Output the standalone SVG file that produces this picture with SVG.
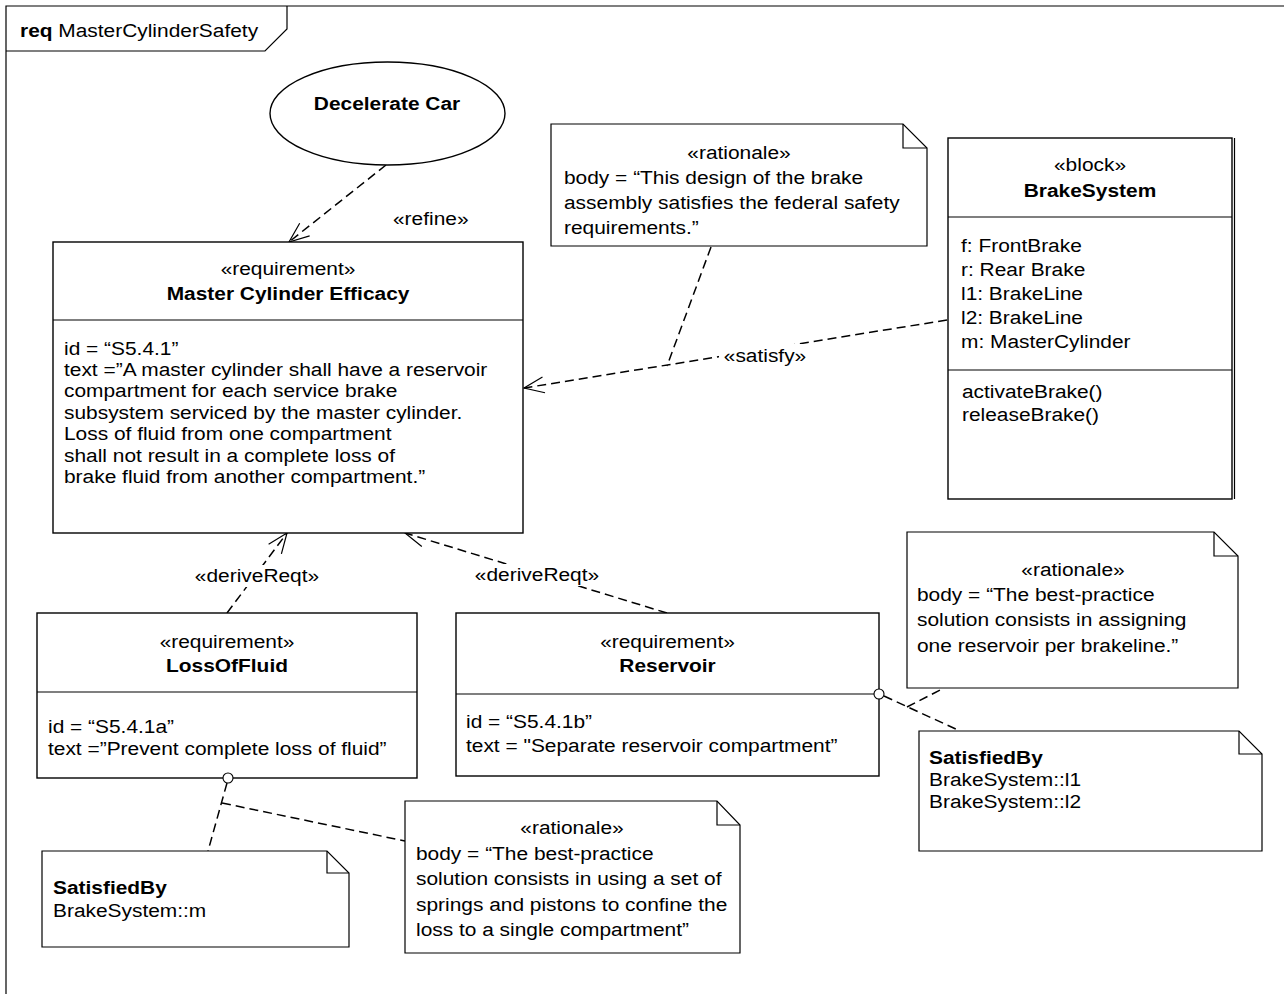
<svg xmlns="http://www.w3.org/2000/svg" width="1284" height="994" viewBox="0 0 1284 994">
<defs>
<style>
.t{font-family:"Liberation Sans",Arial,Helvetica,sans-serif;font-size:19px;fill:#000}
.b{font-weight:bold}
.box{fill:#fff;stroke:#000;stroke-width:1.4}
.note{fill:#fff;stroke:#000;stroke-width:1.2}
.ln{fill:none;stroke:#000;stroke-width:1.2}
.dash{fill:none;stroke:#000;stroke-width:1.5;stroke-dasharray:9 5}
.lbg{fill:#fff;stroke:none}
</style>
<marker id="open" markerUnits="userSpaceOnUse" markerWidth="26" markerHeight="26" viewBox="-22 -13 26 26" refX="0" refY="0" orient="auto">
<path d="M-20,-8 L0,0 L-20,8" fill="none" stroke="#000" stroke-width="1.2" stroke-dasharray="none"/>
</marker>
</defs>
<rect width="1284" height="994" fill="#fff"/>

<g id="frame">
<path class="ln" d="M6,994 L6,6 L1284,6"/>
<path class="ln" d="M6,51 L265,51 L287,29 L287,6"/>
<text class="t" transform="translate(20,37) scale(1.1,1)"><tspan class="b">req</tspan> MasterCylinderSafety</text>
</g>

<g id="connectors">
<path class="dash" d="M386,165 L289,242" marker-end="url(#open)"/>
<text class="t" transform="translate(393,225) scale(1.1,1)">«refine»</text>

<path class="dash" d="M947,320 L524,388" marker-end="url(#open)"/>
<path class="dash" d="M711,247 L667,366"/>
<rect class="lbg" x="719" y="344" width="90" height="22"/>
<text class="t" transform="translate(765,362) scale(1.1,1)" text-anchor="middle">«satisfy»</text>

<path class="dash" d="M227,613 L287,533" marker-end="url(#open)"/>
<rect class="lbg" x="192" y="565" width="130" height="22"/>
<text class="t" transform="translate(257,582) scale(1.1,1)" text-anchor="middle">«deriveReqt»</text>

<path class="dash" d="M667,613 L405,533" marker-end="url(#open)"/>
<rect class="lbg" x="472" y="564" width="130" height="22"/>
<text class="t" transform="translate(537,581) scale(1.1,1)" text-anchor="middle">«deriveReqt»</text>

<path class="dash" d="M227,783 L208,851"/>
<path class="dash" d="M222,803 L405,841"/>
<path class="dash" d="M884,696 L960,731"/>
<path class="dash" d="M907,707 L944,688"/>
</g>

<g id="decelerate-car">
<ellipse class="box" cx="387.5" cy="113.5" rx="117.5" ry="51.5" stroke-width="1.1"/>
<text class="t b" transform="translate(387,110) scale(1.1,1)" text-anchor="middle">Decelerate Car</text>
</g>

<g id="master-cylinder-efficacy">
<rect class="box" x="53" y="242" width="470" height="291"/>
<line class="ln" x1="53" y1="320" x2="523" y2="320"/>
<text class="t" transform="translate(288,274.5) scale(1.1,1)" text-anchor="middle">«requirement»</text>
<text class="t b" transform="translate(288,300) scale(1.1,1)" text-anchor="middle">Master Cylinder Efficacy</text>
<text class="t" transform="translate(64,354.5) scale(1.1,1)">
<tspan x="0" y="0">id = “S5.4.1”</tspan>
<tspan x="0" y="21.5">text =”A master cylinder shall have a reservoir</tspan>
<tspan x="0" y="43">compartment for each service brake</tspan>
<tspan x="0" y="64.5">subsystem serviced by the master cylinder.</tspan>
<tspan x="0" y="86">Loss of fluid from one compartment</tspan>
<tspan x="0" y="107.5">shall not result in a complete loss of</tspan>
<tspan x="0" y="129">brake fluid from another compartment.”</tspan>
</text>
</g>

<g id="rationale-satisfy">
<path class="note" d="M551,124 L903,124 L927,148 L927,246 L551,246 Z"/>
<path class="ln" d="M903,124 L903,148 L927,148"/>
<text class="t" transform="translate(739,158.5) scale(1.1,1)" text-anchor="middle">«rationale»</text>
<text class="t" transform="translate(564,183.5) scale(1.1,1)">
<tspan x="0" y="0">body = “This design of the brake</tspan>
<tspan x="0" y="25.5">assembly satisfies the federal safety</tspan>
<tspan x="0" y="51">requirements.”</tspan>
</text>
</g>

<g id="brake-system">
<rect class="box" x="948" y="138" width="284" height="361"/>
<line class="ln" x1="1234.5" y1="138" x2="1234.5" y2="499"/>
<line class="ln" x1="948" y1="217" x2="1232" y2="217"/>
<line class="ln" x1="948" y1="370" x2="1232" y2="370"/>
<text class="t" transform="translate(1090,171) scale(1.1,1)" text-anchor="middle">«block»</text>
<text class="t b" transform="translate(1090,197) scale(1.1,1)" text-anchor="middle">BrakeSystem</text>
<text class="t" transform="translate(961,252) scale(1.1,1)">
<tspan x="0" y="0">f: FrontBrake</tspan>
<tspan x="0" y="24">r: Rear Brake</tspan>
<tspan x="0" y="48">l1: BrakeLine</tspan>
<tspan x="0" y="72">l2: BrakeLine</tspan>
<tspan x="0" y="96">m: MasterCylinder</tspan>
</text>
<text class="t" transform="translate(962,398) scale(1.1,1)">
<tspan x="0" y="0">activateBrake()</tspan>
<tspan x="0" y="23">releaseBrake()</tspan>
</text>
</g>

<g id="loss-of-fluid">
<rect class="box" x="37" y="613" width="380" height="165"/>
<line class="ln" x1="37" y1="692" x2="417" y2="692"/>
<text class="t" transform="translate(227,648) scale(1.1,1)" text-anchor="middle">«requirement»</text>
<text class="t b" transform="translate(227,672) scale(1.1,1)" text-anchor="middle">LossOfFluid</text>
<text class="t" transform="translate(48,733) scale(1.1,1)">
<tspan x="0" y="0">id = “S5.4.1a”</tspan>
<tspan x="0" y="22">text =”Prevent complete loss of fluid”</tspan>
</text>
<circle cx="228" cy="778" r="5" fill="#fff" stroke="#000" stroke-width="1.1"/>
</g>

<g id="reservoir">
<rect class="box" x="456" y="613" width="423" height="163"/>
<line class="ln" x1="456" y1="694" x2="879" y2="694"/>
<text class="t" transform="translate(667.5,648) scale(1.1,1)" text-anchor="middle">«requirement»</text>
<text class="t b" transform="translate(667.5,672) scale(1.1,1)" text-anchor="middle">Reservoir</text>
<text class="t" transform="translate(466,728) scale(1.1,1)">
<tspan x="0" y="0">id = “S5.4.1b”</tspan>
<tspan x="0" y="24">text = "Separate reservoir compartment”</tspan>
</text>
<circle cx="879" cy="694" r="5" fill="#fff" stroke="#000" stroke-width="1.1"/>
</g>

<g id="rationale-reservoir">
<path class="note" d="M907,532 L1214,532 L1238,556 L1238,688 L907,688 Z"/>
<path class="ln" d="M1214,532 L1214,556 L1238,556"/>
<text class="t" transform="translate(1073,575.5) scale(1.1,1)" text-anchor="middle">«rationale»</text>
<text class="t" transform="translate(917,601) scale(1.1,1)">
<tspan x="0" y="0">body = “The best-practice</tspan>
<tspan x="0" y="25.5">solution consists in assigning</tspan>
<tspan x="0" y="51">one reservoir per brakeline.”</tspan>
</text>
</g>

<g id="satisfiedby-reservoir">
<path class="note" d="M919,731 L1239,731 L1262,754 L1262,851 L919,851 Z"/>
<path class="ln" d="M1239,731 L1239,754 L1262,754"/>
<text class="t b" transform="translate(929,764) scale(1.1,1)">SatisfiedBy</text>
<text class="t" transform="translate(929,786) scale(1.1,1)">
<tspan x="0" y="0">BrakeSystem::l1</tspan>
<tspan x="0" y="22">BrakeSystem::l2</tspan>
</text>
</g>

<g id="rationale-lossoffluid">
<path class="note" d="M405,801 L717,801 L740,825 L740,953 L405,953 Z"/>
<path class="ln" d="M717,801 L717,825 L740,825"/>
<text class="t" transform="translate(572,834) scale(1.1,1)" text-anchor="middle">«rationale»</text>
<text class="t" transform="translate(416,860) scale(1.1,1)">
<tspan x="0" y="0">body = “The best-practice</tspan>
<tspan x="0" y="25.5">solution consists in using a set of</tspan>
<tspan x="0" y="51">springs and pistons to confine the</tspan>
<tspan x="0" y="76.5">loss to a single compartment”</tspan>
</text>
</g>

<g id="satisfiedby-lossoffluid">
<path class="note" d="M42,851 L327,851 L349,873 L349,947 L42,947 Z"/>
<path class="ln" d="M327,851 L327,873 L349,873"/>
<text class="t b" transform="translate(53,893.5) scale(1.1,1)">SatisfiedBy</text>
<text class="t" transform="translate(53,916.5) scale(1.1,1)">BrakeSystem::m</text>
</g>
</svg>
